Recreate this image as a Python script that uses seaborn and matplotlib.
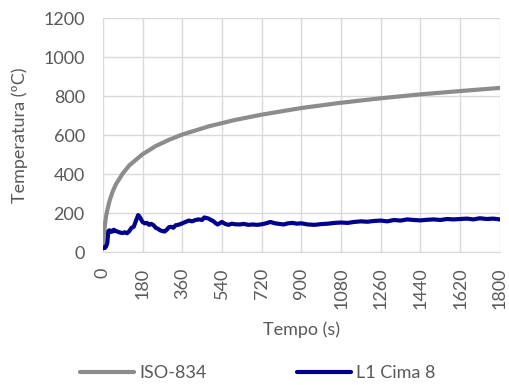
# Temperatura vs tempo: curva ISO-834 e termopar L1 Cima 8
import numpy as np
import pandas as pd
import matplotlib
matplotlib.use('Agg')
import matplotlib.pyplot as plt
import seaborn as sb

# ISO-834
iso_t = [0, 2, 5, 10, 15, 20, 30, 45, 60, 90, 120, 180, 240, 300, 360, 480, 600,
         720, 900, 1080, 1260, 1440, 1620, 1800]
iso_T = [20, 60, 97, 145, 185, 214, 261, 312, 349, 403, 445, 502, 544, 576, 603,
         645, 678, 705, 739, 766, 789, 809, 826, 842]

# L1 Cima 8
l1_t = [0, 3, 6, 10, 15, 20, 25, 30, 35, 40, 45, 50, 55, 60, 70, 80, 90, 100, 110,
        120, 130, 140, 150, 160, 165, 170, 180, 190, 200, 210, 220, 230, 240, 250,
        260, 270, 280, 290, 300, 310, 320, 330, 340, 350, 360, 375, 390, 405, 420,
        435, 450, 460, 470, 480, 490, 500, 510, 520, 530, 540, 555, 570, 585, 600,
        620, 640, 660, 680, 700, 720, 740, 760, 780, 800, 820, 840, 860, 880, 900,
        930, 960, 990, 1020, 1050, 1080, 1110, 1140, 1170, 1200, 1230, 1260, 1290,
        1320, 1350, 1380, 1410, 1440, 1470, 1500, 1530, 1560, 1590, 1620, 1650,
        1680, 1710, 1740, 1770, 1800]
l1_T = [20, 22, 25, 22, 30, 45, 108, 112, 104, 110, 106, 115, 109, 108, 104, 100,
        98, 102, 97, 108, 125, 130, 160, 190, 185, 175, 155, 148, 150, 140, 145,
        138, 125, 120, 112, 108, 106, 115, 128, 130, 125, 138, 140, 143, 148, 155,
        162, 158, 165, 168, 165, 178, 175, 172, 165, 160, 150, 142, 148, 155, 145,
        140, 146, 143, 142, 145, 140, 142, 140, 143, 148, 155, 148, 145, 142, 148,
        150, 146, 148, 142, 140, 144, 146, 150, 152, 150, 155, 158, 156, 160, 162,
        158, 165, 162, 168, 165, 163, 166, 168, 165, 170, 168, 170, 172, 168, 174,
        170, 172, 168]

x_ticks = list(range(0, 1801, 180))
y_ticks = list(range(0, 1201, 200))

df = pd.concat([
    pd.DataFrame({'Tempo': iso_t, 'Temp': iso_T, 'Serie': 'ISO-834'}),
    pd.DataFrame({'Tempo': l1_t, 'Temp': l1_T, 'Serie': 'L1 Cima 8'}),
])

sb.set_style('white')
plt.rcParams['font.family'] = ['Lato', 'DejaVu Sans']
txt = '#595959'
fs = 13

fig = plt.figure(figsize=(5.09, 3.85), dpi=100)
ax = fig.add_axes([0.202, 0.345, 0.78, 0.608])
sb.lineplot(data=df, x='Tempo', y='Temp', hue='Serie', sort=False,
            palette={'ISO-834': '#8c8c8c', 'L1 Cima 8': '#00008f'},
            linewidth=3, ax=ax)

ax.set_xlim(0, 1800)
ax.set_ylim(0, 1200)
ax.set_xticks(x_ticks)
ax.set_yticks(y_ticks)
ax.set_xticklabels([str(v) for v in x_ticks], rotation=90)
ax.grid(True, color='#d9d9d9', linewidth=1)
ax.set_axisbelow(True)
for s in ['top', 'right', 'left']:
    ax.spines[s].set_visible(False)
ax.spines['bottom'].set_color('#d9d9d9')
ax.tick_params(axis='y', length=0, labelsize=fs, colors=txt, pad=13)
ax.tick_params(axis='x', length=0, labelsize=fs, colors=txt, pad=11)
ax.set_xlabel('Tempo (s)', fontsize=fs, color=txt, labelpad=9)
ax.set_ylabel('Temperatura (ºC)', fontsize=fs, color=txt, labelpad=11)

h, l = ax.get_legend_handles_labels()
ax.legend(h, l, loc='center', bbox_to_anchor=(0.39, -0.517), ncol=2, frameon=False,
          fontsize=fs, labelcolor=txt, handlelength=3.0, columnspacing=5.0,
          handletextpad=0.3)

plt.savefig('out.png', dpi=100)
